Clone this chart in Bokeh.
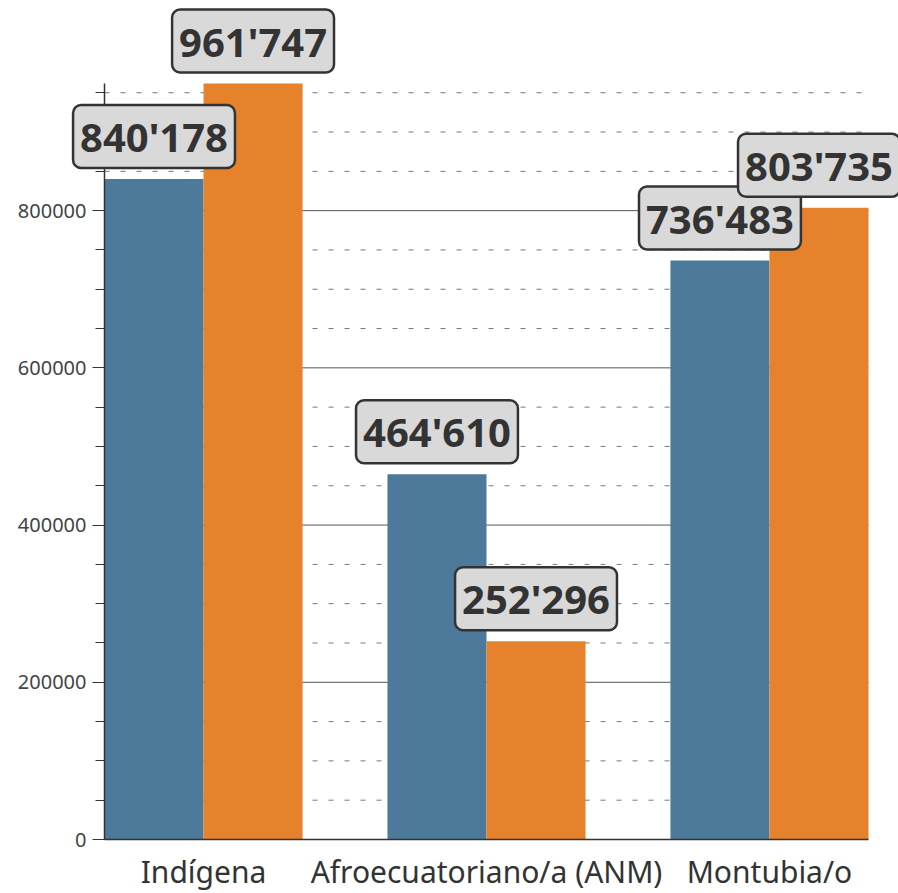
from bokeh.plotting import figure
from bokeh.models import ColumnDataSource, Label, Range1d, FixedTicker, SingleIntervalTicker
from bokeh.embed import file_html
from bokeh.resources import INLINE

categories = ["Indígena", "Afroecuatoriano/a (ANM)", "Montubia/o"]
series_a = [840178, 464610, 736483]
series_b = [961747, 252296, 803735]
y_major_interval = 200000
y_minor_interval = 50000

BLUE = "#4d7a9b"
ORANGE = "#e6822c"
FONT = "Noto Sans"

W, H = 898, 893
centers = [i + 0.5 for i in range(len(categories))]
bar_w = 0.35
x_lo, x_hi = 0.15, 2.85           # extent of the drawn axis / grid
axis_px = 104                     # canvas px of the y axis
ppu = 764 / (x_hi - x_lo)         # pixels per category unit
zero_px = 839                     # canvas px of y = 0
y_max = max(series_a + series_b)
y_top_px = 83                     # canvas px where y_max sits

def fmt(v):
    return f"{v:,}".replace(",", "'")

xa = [c - bar_w / 2 for c in centers]
xb = [c + bar_w / 2 for c in centers]
src_a = ColumnDataSource(dict(x=xa, top=series_a))
src_b = ColumnDataSource(dict(x=xb, top=series_b))

x_start = x_lo - axis_px / ppu
x_end = x_start + W / ppu
ypp = y_max / (zero_px - y_top_px)     # data units per pixel
y_end = zero_px * ypp
y_start = -(H - zero_px) * ypp

p = figure(width=W, height=H, output_backend="svg", toolbar_location=None,
           x_range=Range1d(x_start, x_end), y_range=Range1d(y_start, y_end),
           min_border_left=0, min_border_right=0, min_border_top=0, min_border_bottom=0)
p.outline_line_color = None
p.background_fill_color = "white"
p.xgrid.grid_line_color = None
p.ygrid.grid_line_color = None

# grid lines limited to the axis extent
major_vals = list(range(y_major_interval, y_max + 1, y_major_interval))
minor_vals = [v for v in range(y_minor_interval, y_max + 1, y_minor_interval)
              if v % y_major_interval != 0]
p.segment(x0=[x_lo] * len(minor_vals), x1=[x_hi] * len(minor_vals), y0=minor_vals, y1=minor_vals,
          line_color="#777777", line_width=1, line_dash="5 11")
p.segment(x0=[x_lo] * len(major_vals), x1=[x_hi] * len(major_vals), y0=major_vals, y1=major_vals,
          line_color="#555555", line_width=1)

p.vbar(x="x", top="top", width=bar_w, bottom=0, source=src_a, fill_color=BLUE, line_color=None)
p.vbar(x="x", top="top", width=bar_w, bottom=0, source=src_b, fill_color=ORANGE, line_color=None)

yt = SingleIntervalTicker(interval=y_major_interval, num_minor_ticks=y_major_interval // y_minor_interval)
p.yaxis.ticker = yt
p.yaxis.fixed_location = x_lo
p.yaxis.bounds = (0, y_max)
p.yaxis.axis_line_color = "#333333"
p.yaxis.axis_line_width = 1.5
p.yaxis.major_tick_line_color = "#333333"
p.yaxis.major_tick_out = 12
p.yaxis.major_tick_in = 0
p.yaxis.minor_tick_line_color = "#333333"
p.yaxis.minor_tick_out = 9
p.yaxis.minor_tick_in = 0
p.yaxis.major_label_text_font = FONT
p.yaxis.major_label_text_font_size = "20px"
p.yaxis.major_label_text_color = "#444444"
p.yaxis.major_label_standoff = 6
p.yaxis.formatter.use_scientific = False

p.xaxis.ticker = FixedTicker(ticks=centers)
p.xaxis.fixed_location = 0
p.xaxis.bounds = (x_lo, x_hi)
p.xaxis.major_label_overrides = {c: n for c, n in zip(centers, categories)}
p.xaxis.axis_line_color = "#333333"
p.xaxis.axis_line_width = 1.5
p.xaxis.major_tick_line_color = None
p.xaxis.major_tick_out = 0
p.xaxis.major_tick_in = 0
p.xaxis.minor_tick_line_color = None
p.xaxis.minor_tick_out = 0
p.xaxis.major_label_text_font = FONT
p.xaxis.major_label_text_font_size = "30px"
p.xaxis.major_label_text_color = "#333333"
p.xaxis.major_label_standoff = 11

for xs, vals in ((xa, series_a), (xb, series_b)):
    for x, v in zip(xs, vals):
        p.add_layout(Label(x=x, y=v, text=fmt(v),
                           text_align="center", text_baseline="bottom", y_offset=11,
                           text_font=FONT, text_font_size="40px", text_font_style="bold",
                           text_color="#333333",
                           background_fill_color="#d9d9d9", background_fill_alpha=1.0,
                           border_line_color="#333333", border_line_width=2.5,
                           border_radius=8, padding=dict(x=7, y=4)))

open("out.html", "w").write(file_html(p, INLINE))
